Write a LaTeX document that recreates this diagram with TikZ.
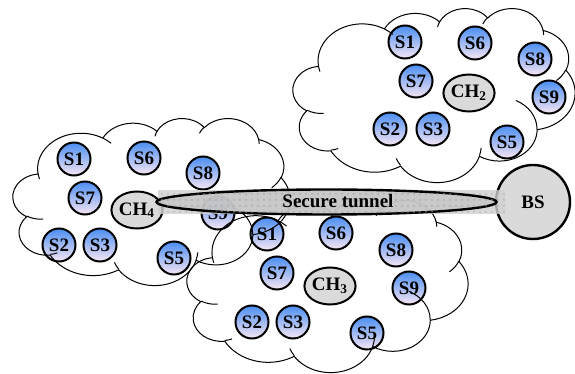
\documentclass[tikz,border=0pt]{standalone}
\usepackage{fontspec}
\setmainfont{Liberation Serif}
\usetikzlibrary{shapes.geometric,patterns}
\definecolor{sensortop}{RGB}{74,142,242}
\definecolor{sensorbot}{RGB}{248,230,244}
\definecolor{headgray}{RGB}{218,218,218}
\definecolor{tunnelgray}{RGB}{196,196,196}
\tikzset{
  % arc of the office-style cloud outline: radii, start angle and sweep
  % (angles measured along the ray, converted to ellipse parameter)
  carc/.style n args={4}{insert path={arc[x radius=#1, y radius=#2,
      start angle={vang(#3,#1,#2)},
      end angle={vang(#3,#1,#2)+mod(vang(#3+#4,#1,#2)-vang(#3,#1,#2)+720,360)}]}},
  cloudpic/.pic={
    \draw[line width=0.5pt]
      (39.00,143.70)
      [carc={67.53}{91.90}{-190.4875}{123.7805}]
      [carc={53.33}{72.67}{-144.1024}{89.9452}]
      [carc={43.65}{59.45}{-145.8079}{99.7230}]
      [carc={48.57}{65.95}{-130.9861}{117.2417}]
      [carc={53.33}{72.73}{-78.7089}{109.0269}]
      [carc={67.75}{92.20}{-46.2673}{130.2690}]
      [carc={57.85}{78.67}{0.6250}{114.0333}]
      [carc={67.52}{92.15}{22.4516}{115.1726}]
      [carc={77.20}{105.43}{66.2426}{75.7110}]
      [carc={43.60}{59.18}{-274.9421}{146.7356}]
      [carc={43.45}{59.45}{-246.8285}{152.5189}] -- cycle;
    \draw[line width=0.5pt]
      (46.93,261.77) [carc={43.45}{59.45}{86.742}{26.4295}]
      (69.28,348.99) [carc={43.60}{59.18}{73.6105}{11.4475}]
      (164.78,390.90) [carc={67.52}{92.15}{137.6242}{14.0811}]
      (288.27,347.51) [carc={67.52}{92.15}{6.4533}{15.9984}]
      (341.29,229.54) [carc={57.85}{78.67}{-70.2924}{70.9174}]
      (417.98,153.54) [carc={53.33}{72.73}{30.3180}{27.7515}]
      (383.24,54.26) [carc={48.57}{65.95}{-13.7443}{14.8589}]
      (290.78,39.52) [carc={48.57}{65.95}{-149.1815}{18.1954}]
      (221.41,47.20) [carc={43.65}{59.45}{-163.4943}{17.6864}]
      (140.00,51.92) [carc={67.53}{91.90}{-66.7070}{12.3194}]
      (41.27,157.89) [carc={67.53}{91.90}{157.6544}{11.8582}];
  },
  labelfont/.style={font=\bfseries\fontsize{9.5}{9.5}\selectfont},
  sensor/.style={circle, draw, line width=1pt, minimum size=16.5pt, inner sep=0pt,
    top color=sensortop, bottom color=sensorbot, labelfont},
  head/.style={ellipse, draw, line width=1pt, fill=headgray, inner sep=0pt,
    minimum width=25pt, minimum height=18.5pt, labelfont},
}
\begin{document}
\begin{tikzpicture}[x=0.5pt, y=-0.5pt,
  declare function={vang(\a,\w,\h)=atan2(\w*sin(\a),\h*cos(\a));}]
\useasboundingbox (0,0) rectangle (575,374);

% cluster around CH2
\node[sensor] (a1) at (405,42) {S1};
\node[sensor] (a6) at (475,43) {S6};
\node[sensor] (a8) at (535,59) {S8};
\node[sensor] (a7) at (416,81) {S7};
\node[head]   (ch2) at (469,93) {CH\textsubscript{2}};
\node[sensor] (a9) at (549,97) {S9};
\node[sensor] (a2) at (390,129) {S2};
\node[sensor] (a3) at (433,129) {S3};
\node[sensor] (a5) at (507,142) {S5};

% cluster around CH4
\node[sensor] (b1) at (74,159) {S1};
\node[sensor] (b6) at (144,158) {S6};
\node[sensor] (b8) at (203,173) {S8};
\node[sensor] (b7) at (85,198) {S7};
\node[head]   (ch4) at (137,210) {CH\textsubscript{4}};
\node[sensor] (b9) at (218,213) {S9};
\node[sensor] (b2) at (59,245) {S2};
\node[sensor] (b3) at (100,245) {S3};
\node[sensor] (b5) at (174,258) {S5};

% cluster around CH3
\node[sensor] (c1) at (267,234) {S1};
\node[sensor] (c6) at (336,233) {S6};
\node[sensor] (c8) at (396,250) {S8};
\node[sensor] (c7) at (277,273) {S7};
\node[head]   (ch3) at (330,286) {CH\textsubscript{3}};
\node[sensor] (c9) at (409,288) {S9};
\node[sensor] (c2) at (252,322) {S2};
\node[sensor] (c3) at (293,322) {S3};
\node[sensor] (c5) at (367,333) {S5};

% cloud outlines
\pic[xscale=282/432, yscale=174/432] at (293,8) {cloudpic};
\pic[xscale=277/432, yscale=167/432] at (13,118) {cloudpic};
\pic[xscale=281/432, yscale=172/432] at (187,200) {cloudpic};

% base station
\node[circle, draw, line width=1.2pt, fill=headgray, minimum size=37pt,
  labelfont] (bs) at (533,202) {BS};

% secure tunnel
\fill[tunnelgray!80, fill opacity=0.8,
  postaction={pattern=dots, pattern color=gray!60}] (158,190) rectangle (505,214);
\node[ellipse, draw, line width=1.2pt, fill=tunnelgray, fill opacity=0.75,
  draw opacity=1, minimum width=170pt, minimum height=12.5pt,
  postaction={pattern=dots, pattern color=gray!70}] (tunnel) at (326.5,202) {};
\node[labelfont] (tunnellabel) at (338,201) {Secure tunnel};
\end{tikzpicture}
\end{document}
